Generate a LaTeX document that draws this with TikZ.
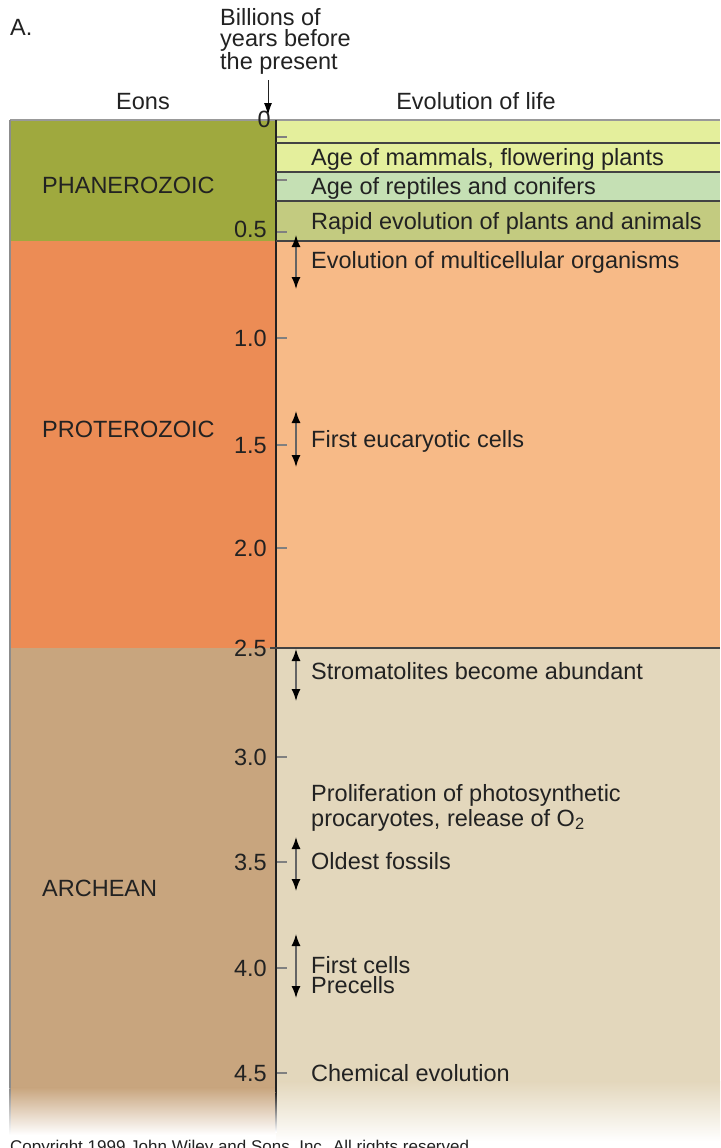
\documentclass[tikz,border=0pt]{standalone}
\usepackage{fontspec}
\setmainfont{Liberation Sans}
\usetikzlibrary{arrows.meta}
\definecolor{phan}{HTML}{9FA93E}
\definecolor{prot}{HTML}{EC8C55}
\definecolor{arch}{HTML}{C8A57E}
\definecolor{yelband}{HTML}{E4EF9C}
\definecolor{grnband}{HTML}{C5E0B4}
\definecolor{olvband}{HTML}{C3CB80}
\definecolor{protR}{HTML}{F7BA87}
\definecolor{archR}{HTML}{E3D7BC}
\definecolor{ink}{HTML}{222222}
\tikzset{
  lbl/.style={anchor=base west,inner sep=0pt,text=ink,font=\fontsize{23.5}{26}\selectfont},
  num/.style={anchor=base east,inner sep=0pt,text=ink,font=\fontsize{23.5}{26}\selectfont},
  hdr/.style={anchor=base,inner sep=0pt,text=ink,font=\fontsize{23.5}{26}\selectfont},
  tick/.style={draw=gray,line width=1.2pt},
  sep/.style={draw=ink!85,line width=1.4pt},
  dbl/.style={draw=ink!70,line width=1.4pt,{Latex[length=12pt,width=9pt,black]}-{Latex[length=12pt,width=9pt,black]}},
}
\begin{document}
\begin{tikzpicture}[x=1pt,y=-1pt]
\useasboundingbox (0,0) rectangle (720,1148);
\fill[white] (0,0) rectangle (720,1148);
% left column
\fill[phan] (10,120) rectangle (276,241);
\fill[prot] (10,241) rectangle (276,648);
\fill[arch] (10,648) rectangle (276,1088);
\shade[top color=arch,bottom color=white] (10,1087.5) rectangle (276,1135);
% right column
\fill[yelband] (276,120) rectangle (720,172);
\fill[grnband] (276,172) rectangle (720,201);
\fill[olvband] (276,201) rectangle (720,241);
\fill[protR] (276,241) rectangle (720,648);
\fill[archR] (276,648) rectangle (720,1082);
\shade[top color=archR,bottom color=white!97!archR] (276,1081.5) rectangle (720,1140);
% borders
\draw[draw=gray!80,line width=1.2pt] (10,120) -- (720,120);
\draw[draw=gray!90,line width=1.2pt] (10,120) -- (10,1088);
\shade[top color=gray!90,bottom color=white] (9.4,1088) rectangle (10.6,1135);
\draw[draw=ink,line width=1.5pt] (276,120) -- (276,1092);
\shade[top color=ink,bottom color=white] (275.25,1092) rectangle (276.75,1132);
\draw[sep] (276,143) -- (720,143);
\draw[sep] (276,172) -- (720,172);
\draw[sep] (276,201) -- (720,201);
\draw[sep] (276,241) -- (720,241);
\draw[sep] (270,648) -- (720,648);
% ticks
\foreach \t in {137,180,232,338,445,548,757,862,968,1073}
  \draw[tick] (277,\t) -- (287,\t);
% header
\node[lbl] (A) at (10,36) {A.};
\node[lbl,align=left,anchor=north west,font=\fontsize{23.5}{21.5}\selectfont] (bill) at (220,8) {Billions of\\years before\\the present};
\coordinate (arrowEnd) at (268,115);
\draw[draw=ink,line width=1pt,-{Latex[length=12pt,width=8pt,black]}] (268,80) -- (arrowEnd);
\node[hdr] (eons) at (143,109) {Eons};
\node[hdr] (evol) at (476,109) {Evolution of life};
% eon names
\node[lbl] (phz) at (42,193) {PHANEROZOIC};
\node[lbl] (ptz) at (42,437) {PROTEROZOIC};
\node[lbl] (arc) at (42,896) {ARCHEAN};
% numbers
\node[num] (n0) at (271,127) {0};
\node[num] (n05) at (267,237) {0.5};
\node[num] (n10) at (267,346) {1.0};
\node[num] (n15) at (267,453) {1.5};
\node[num] (n20) at (267,556) {2.0};
\node[num] (n25) at (267,656) {2.5};
\node[num] (n30) at (267,765) {3.0};
\node[num] (n35) at (267,870) {3.5};
\node[num] (n40) at (267,976) {4.0};
\node[num] (n45) at (267,1081) {4.5};
% life events
\node[lbl] (e1) at (311,165) {Age of mammals, flowering plants};
\node[lbl] (e2) at (311,194) {Age of reptiles and conifers};
\node[lbl] (e3) at (311,229) {Rapid evolution of plants and animals};
\node[lbl] (e4) at (311,268) {Evolution of multicellular organisms};
\node[lbl] (e5) at (311,447) {First eucaryotic cells};
\node[lbl] (e6) at (311,679) {Stromatolites become abundant};
\node[lbl] (e7) at (311,801) {Proliferation of photosynthetic};
\node[lbl] (e7b) at (311,826) {procaryotes, release of O\textsubscript{2}};
\node[lbl] (e8) at (311,869) {Oldest fossils};
\node[lbl] (e9) at (311,973) {First cells};
\node[lbl] (e10) at (311,993) {Precells};
\node[lbl] (e11) at (311,1081) {Chemical evolution};
% double arrows
\coordinate (a1t) at (296,235); \coordinate (a1b) at (296,289);
\coordinate (a2t) at (296,411); \coordinate (a2b) at (296,467);
\coordinate (a3t) at (296,649); \coordinate (a3b) at (296,701);
\coordinate (a4t) at (296,837); \coordinate (a4b) at (296,891);
\coordinate (a5t) at (296,934); \coordinate (a5b) at (296,998);
\draw[dbl] (a1t) -- (a1b);
\draw[dbl] (a2t) -- (a2b);
\draw[dbl] (a3t) -- (a3b);
\draw[dbl] (a4t) -- (a4b);
\draw[dbl] (a5t) -- (a5b);
% copyright (cut off at bottom)
\node[lbl,font=\fontsize{17}{20}\selectfont] (copy) at (10,1152) {Copyright 1999 John Wiley and Sons, Inc. All rights reserved.};
\end{tikzpicture}
\end{document}
